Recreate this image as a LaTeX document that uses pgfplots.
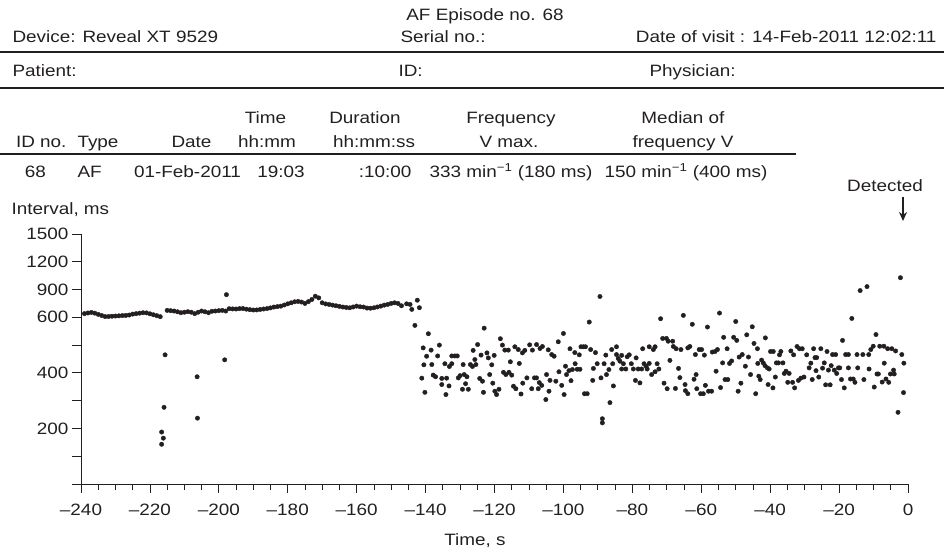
\documentclass[border=0pt]{standalone}
\usepackage{pgfplots}
\pgfplotsset{compat=1.18}
\usepackage{pgfplotstable}
\usepackage{fontspec}
\setmainfont{Liberation Sans}[FakeStretch=1.15]
\usetikzlibrary{arrows.meta}
\definecolor{ink}{HTML}{231F20}
\newcommand\hf{\fontsize{16.5}{18}\selectfont}

% RR intervals (ms) over time before detection (s)
\pgfplotstableread{
t v
-239 640
-238 647
-237 653
-236 645
-235 632
-234 620
-233 608
-232 609
-231 612
-230 614
-229 616
-228 619
-227 620
-226 625
-225 635
-224 640
-223 645
-222 650
-221 648
-220 638
-219 628
-218 618
-217 607
-215 675
-214 672
-213 668
-212 660
-211 650
-210 655
-209 661
-208 655
-207 640
-206 655
-205 668
-204 660
-203 650
-202 665
-201 668
-200 672
-199 675
-198 668
-197 693
-196 691
-195 690
-194 694
-193 695
-192 688
-191 683
-190 679
-189 680
-188 685
-187 690
-186 695
-185 702
-184 711
-183 716
-182 721
-181 733
-180 746
-179 757
-178 768
-177 772
-176 765
-175 750
-174 770
-173 793
-172 828
-171 810
-170 757
-169 745
-168 739
-167 732
-166 725
-165 718
-164 711
-163 706
-162 703
-161 712
-160 721
-159 714
-158 711
-157 700
-156 698
-155 703
-154 712
-153 721
-152 732
-151 739
-150 750
-149 757
-148 750
-147 725
-145.5 746
-144.5 739
-144.0 686
-142.4 785
-141.8 704
-143.1 571
}\sinus

\pgfplotstableread{
t v
-216.6 187
-216.1 165
-216.6 143
-215.9 276
-215.6 465
-206.3 386
-206.2 237
-198.3 447
-197.8 845
}\ectopic

\pgfplotstableread{
t v
-139.2 541
-140.7 490
-138.4 482
-136.0 500
-139.7 460
-136.5 461
-140.5 429
-138.2 430
-141.1 381
-140.2 330
-137.8 392
-137.1 386
-135.3 380
-133.9 381
-135.3 358
-133.2 353
-134.1 322
-134.4 433
-133.1 423
-132.4 433
-132.4 461
-131.5 461
-130.8 461
-130.5 382
-130.0 390
-128.8 394
-128.0 386
-128.4 361
-129.3 341
-127.6 341
-129.1 430
-127.0 430
-126.4 423
-125.4 430
-126.2 481
-124.9 502
-125.7 448
-123.9 464
-123.0 561
-122.2 472
-121.8 454
-120.1 463
-120.8 429
-124.3 380
-123.5 370
-121.4 394
-120.5 363
-123.2 330
-119.9 334
-119.4 322
-118.7 341
-118.3 523
-117.7 500
-117.0 482
-116.0 482
-115.4 440
-117.4 402
-116.7 394
-115.8 402
-115.0 392
-114.5 352
-113.8 343
-112.3 324
-112.8 434
-114.1 494
-113.1 484
-111.9 472
-111.2 481
-109.8 501
-109.0 482
-107.8 502
-106.8 488
-106.1 495
-104.4 483
-103.4 466
-102.7 460
-111.8 363
-110.6 382
-109.2 343
-108.4 382
-107.8 382
-107.0 365
-106.3 355
-104.9 394
-103.9 373
-104.2 334
-107.3 343
-105.1 304
-102.2 370
-101.3 404
-100.0 542
-101.5 512
-100.5 355
-99.8 322
-99.4 424
-99.1 394
-98.4 408
-98.1 487
-97.8 372
-97.4 412
-96.6 433
-96.7 473
-96.0 413
-95.2 413
-95.4 465
-94.9 494
-94.2 494
-93.6 494
-93.9 325
-93.1 325
-92.5 583
-92.1 484
-91.3 416
-91.5 373
-90.7 473
-90.2 433
-89.4 825
-89.1 382
-88.7 235
-88.7 220
-88.2 433
-87.7 464
-87.5 394
-86.8 412
-86.5 293
-86.0 484
-85.7 433
-85.5 353
-84.6 494
-84.6 466
-84.1 452
-83.6 442
-83.1 463
-83.1 414
-82.6 433
-81.9 414
-81.5 458
-80.9 465
-80.3 433
-79.7 414
-79.1 373
-78.9 454
-78.3 414
-77.8 364
-77.3 414
-77.0 487
-76.6 433
-76.0 424
-75.7 414
-75.1 434
-75.1 494
-74.4 394
-73.9 484
-73.4 494
-73.4 404
-72.8 433
-72.3 414
-71.8 595
-71.2 524
-70.8 363
-70.1 524
-69.9 343
-69.6 514
-69.1 445
-68.3 514
-68.1 495
-67.5 344
-67.3 487
-66.6 416
-66.2 383
-65.9 484
-65.2 621
-64.7 358
-64.6 336
-63.9 325
-63.9 490
-63.3 495
-62.6 575
-62.1 377
-61.5 394
-61.7 466
-61.3 343
-60.6 484
-59.9 484
-60.2 325
-59.4 325
-59.1 464
-58.8 355
-58.2 565
-57.9 334
-57.0 334
-56.8 475
-56.0 477
-55.3 484
-54.7 646
-55.7 406
-54.4 347
-53.8 436
-53.5 528
-53.1 376
-52.3 376
-52.5 487
-51.8 434
-51.2 443
-50.6 528
-50.0 585
-49.7 517
-49.3 334
-49.0 457
-48.5 363
-48.1 466
-47.2 424
-46.8 537
-46.3 457
-45.7 394
-45.2 566
-44.7 506
-44.2 325
-43.7 487
-43.6 434
-43.3 388
-42.9 376
-42.5 446
-42.0 436
-41.4 526
-41.5 426
-40.8 418
-40.6 358
-40.3 414
-39.9 477
-39.2 346
-39.1 477
-38.5 385
-38.2 436
-37.6 436
-37.3 465
-36.9 477
-36.3 436
-35.9 398
-35.4 406
-34.9 366
-34.5 398
-34.0 479
-33.5 366
-33.2 465
-32.9 346
-32.2 495
-31.8 373
-31.5 487
-31.1 381
-30.7 487
-30.2 385
-29.4 465
-28.7 418
-28.2 435
-27.8 376
-27.4 487
-27.0 455
-26.5 455
-26.7 408
-25.9 385
-25.3 487
-24.8 417
-24.3 436
-23.9 357
-23.5 477
-23.1 410
-22.6 357
-22.3 426
-21.9 466
-21.4 410
-21.0 466
-20.7 398
-20.2 418
-19.8 418
-19.3 376
-19.0 517
-18.5 346
-18.1 466
-17.3 466
-17.3 418
-16.7 378
-16.3 596
-15.9 378
-15.4 366
-14.8 466
-14.6 418
-13.9 889
-13.1 466
-12.8 376
-11.9 932
-11.4 466
-11.3 414
-10.8 484
-10.1 496
-9.8 349
-9.3 538
-9.0 396
-8.6 396
-8.2 496
-7.5 367
-7.0 496
-6.9 435
-6.4 378
-5.9 487
-5.6 366
-5.1 396
-4.7 487
-4.2 410
-4.0 396
-3.6 479
-2.9 258
-2.2 1028
-1.8 466
-1.3 329
-1.2 435
}\afib

\begin{document}
\begin{tikzpicture}[x=1bp,y=1bp,font=\hf,color=ink]
\path[use as bounding box] (0,0) rectangle (944,558);

% report header
\node[anchor=base] at (485,537) {AF Episode no. 68};
\node[anchor=base west] at (9,515) {Device: Reveal XT 9529};
\node[anchor=base west] at (397,515) {Serial no.:};
\node[anchor=base east] at (940,515) {Date of visit : 14-Feb-2011 12:02:11};
\draw[line width=2bp] (0,506) -- (944,506);
\node[anchor=base west] at (9,481) {Patient:};
\node[anchor=base west] at (395,481) {ID:};
\node[anchor=base west] at (646,481) {Physician:};
\draw[line width=2bp] (0,470) -- (944,470);

% episode table
\node[anchor=base] at (265.5,434) {Time};
\node[anchor=base] at (365,434) {Duration};
\node[anchor=base] at (511,434) {Frequency};
\node[anchor=base] at (683,434) {Median of};
\node[anchor=base west] at (12.5,410.7) {ID no.};
\node[anchor=base west] at (74,410.7) {Type};
\node[anchor=base] at (191.5,410.7) {Date};
\node[anchor=base] at (267,410.7) {hh:mm};
\node[anchor=base] at (374,410.7) {hh:mm:ss};
\node[anchor=base] at (509,410.7) {V max.};
\node[anchor=base] at (683,410.7) {frequency V};
\draw[line width=1.6bp] (0,404) -- (796,404);
\node[anchor=base] at (35.5,380.7) {68};
\node[anchor=base west] at (74,380.7) {AF};
\node[anchor=base] at (187.5,380.7) {01-Feb-2011};
\node[anchor=base] at (281,380.7) {19:03};
\node[anchor=base east] at (415,380.7) {:10:00};
\node[anchor=base] at (511,380.7) {333 min\textsuperscript{−1} (180 ms)};
\node[anchor=base] at (686,380.7) {150 min\textsuperscript{−1} (400 ms)};

\node[anchor=base] at (885,366) {Detected};
\draw[line width=1.2bp,-{Stealth[length=9bp,width=8bp]}] (903,361) -- (903,337);

\node[anchor=base west] at (8,343) {Interval, ms};
\node[anchor=base] at (475,12) {Time, s};

\begin{axis}[
  at={(81bp,74bp)}, anchor=south west,
  scale only axis, width=827bp, height=250bp,
  xmin=-240, xmax=0, ymin=0, ymax=1500,
  y coord trafo/.code={\pgfmathparse{(#1>600)*(600+(#1-600)/3)+(#1<=600)*#1}},
  axis x line=bottom, axis y line=left,
  axis line style={-, line width=0.8bp, color=ink},
  tick align=outside, tick style={line width=0.8bp, color=ink},
  major tick length=9bp, minor tick length=6bp,
  xtick={-240,-220,...,0}, minor x tick num=3,
  xticklabels={\textendash240,\textendash220,\textendash200,\textendash180,\textendash160,\textendash140,\textendash120,\textendash100,\textendash80,\textendash60,\textendash40,\textendash20,0},
  xticklabel style={yshift=-8bp},
  ytick={0,100,200,300,400,500,600,900,1200,1500},
  yticklabels={,,200,,400,,600,900,1200,1500},
  ticklabel style={font=\hf, color=ink},
  clip=false,
]
\addplot[only marks, mark=*, mark size=2.2bp, color=ink] table[x=t,y=v] {\sinus};
\addplot[only marks, mark=*, mark size=2.2bp, color=ink] table[x=t,y=v] {\ectopic};
\addplot[only marks, mark=*, mark size=2.2bp, color=ink] table[x=t,y=v] {\afib};
\end{axis}
\end{tikzpicture}
\end{document}
